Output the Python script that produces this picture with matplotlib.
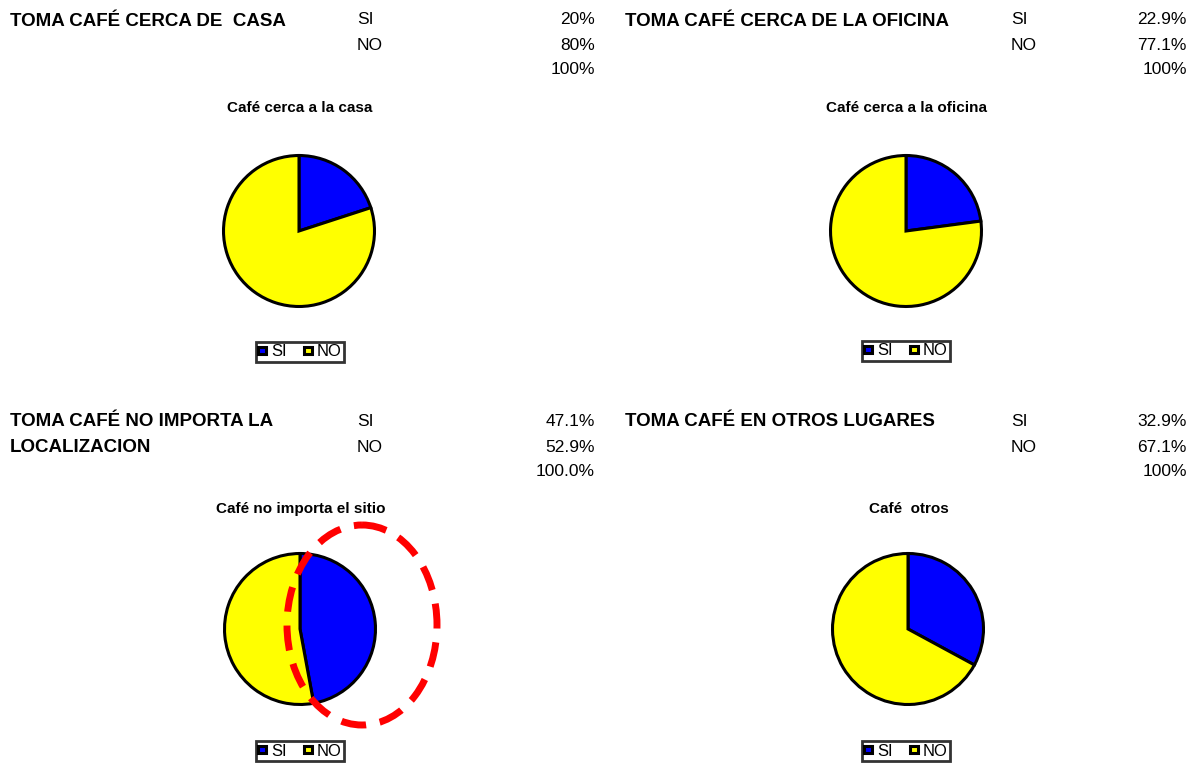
import matplotlib
matplotlib.use("Agg")
import matplotlib.pyplot as plt
from matplotlib.patches import Ellipse, Patch

plt.rcParams["font.family"] = ["Liberation Sans", "DejaVu Sans"]

W, H = 1199, 763

# Survey data
labels = ["SI", "NO"]
colors = ["#0000FF", "#FFFF00"]

headings = [["TOMA CAFÉ CERCA DE  CASA"], ["TOMA CAFÉ CERCA DE LA OFICINA"],
            ["TOMA CAFÉ NO IMPORTA LA", "LOCALIZACION"], ["TOMA CAFÉ EN OTROS LUGARES"]]
chart_titles = ["Café cerca a la casa", "Café cerca a la oficina",
                "Café no importa el sitio", "Café  otros"]
si_values = [20.0, 22.9, 47.1, 32.9]
no_values = [80.0, 77.1, 52.9, 67.1]
si_text = ["20%", "22.9%", "47.1%", "32.9%"]
no_text = ["80%", "77.1%", "52.9%", "67.1%"]
total_text = ["100%", "100%", "100.0%", "100%"]

fig = plt.figure(figsize=(W / 100, H / 100), dpi=100)


def fx(x):
    return x / W


def fy(y):
    return 1 - y / H


# panel layout: heading x, label x, value right x, top y, pie centre, legend centre
panels = [
    dict(hx=10, lx=357, vx=595, ty=20, cx=299, cy=231, lgx=300, lgy=352),
    dict(hx=625, lx=1011, vx=1187, ty=20, cx=906, cy=231, lgx=906, lgy=351),
    dict(hx=10, lx=357, vx=595, ty=421, cx=300, cy=629, lgx=300, lgy=751),
    dict(hx=625, lx=1011, vx=1187, ty=421, cx=908, cy=629, lgx=906, lgy=751),
]

R = 77
for i, p in enumerate(panels):
    ty = p["ty"]
    for k, line in enumerate(headings[i]):
        fig.text(fx(p["hx"]), fy(ty + 1 + 25 * k), line, fontsize=13.5, fontweight="bold",
                 ha="left", va="center")
    fig.text(fx(p["lx"]), fy(ty), "SI", fontsize=12.5, ha="left", va="center")
    fig.text(fx(p["lx"]), fy(ty + 26), "NO", fontsize=12.5, ha="left", va="center")
    fig.text(fx(p["vx"]), fy(ty), si_text[i], fontsize=12.5, ha="right", va="center")
    fig.text(fx(p["vx"]), fy(ty + 26), no_text[i], fontsize=12.5, ha="right", va="center")
    fig.text(fx(p["vx"]), fy(ty + 50), total_text[i], fontsize=12.5, ha="right", va="center")
    fig.text(fx(p["cx"] + 1), fy(ty + 88), chart_titles[i], fontsize=11, fontweight="bold",
             ha="center", va="center")

    cx, cy = p["cx"], p["cy"]
    ax = fig.add_axes([fx(cx - R), fy(cy + R), 2 * R / W, 2 * R / H])
    ax.pie([si_values[i], no_values[i]], colors=colors, startangle=90, counterclock=False,
           radius=1, wedgeprops=dict(edgecolor="black", linewidth=2.2))
    ax.set_xlim(-1.02, 1.02)
    ax.set_ylim(-1.02, 1.02)
    ax.set_aspect("auto")
    ax.axis("off")

    handles = [Patch(facecolor=c, edgecolor="black", linewidth=2.2) for c in colors]
    leg = fig.legend(handles, labels, loc="center",
                     bbox_to_anchor=(fx(p["lgx"]), fy(p["lgy"])), ncol=2, fontsize=12,
                     frameon=True, fancybox=False, handlelength=0.5, handleheight=0.35,
                     handletextpad=0.3, columnspacing=1.0, borderpad=0.15,
                     borderaxespad=0)
    leg.get_frame().set_edgecolor("black")
    leg.get_frame().set_linewidth(2.0)

# red dashed highlight around the third chart
overlay = fig.add_axes([0, 0, 1, 1], facecolor="none")
overlay.set_xlim(0, W)
overlay.set_ylim(H, 0)
overlay.axis("off")
overlay.add_patch(Ellipse((362, 625), 150, 200, fill=False, edgecolor="#FF0000",
                          linewidth=5, linestyle=(0, (3.6, 2.0))))

fig.savefig("out.png", dpi=100)
